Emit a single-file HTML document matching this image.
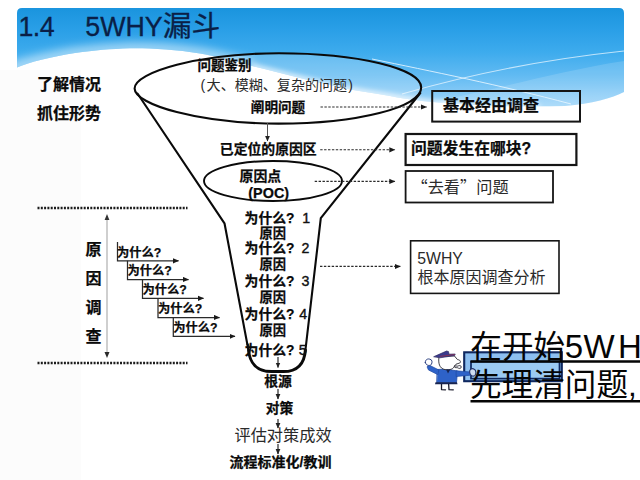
<!DOCTYPE html>
<html lang="zh">
<head>
<meta charset="utf-8">
<title>1.4 5WHY漏斗</title>
<style>
html,body{margin:0;padding:0;background:#fff;}
body{width:640px;height:480px;overflow:hidden;position:relative;}
svg{position:absolute;left:0;top:0;display:block;}
text{font-family:"Liberation Sans","Noto Sans CJK SC",sans-serif;}
.b{font-weight:bold;fill:#0a0a0a;stroke:#0a0a0a;stroke-width:0.25px;}
.r{font-weight:normal;fill:#2a2a2a;}
.d{font-weight:normal;font-size:14.2px;fill:#111;stroke:#111;stroke-width:0.4px;}
.t{fill:#0a1f47;stroke:#0a1f47;stroke-width:0.3px;}
.cj{font-family:"Noto Sans CJK SC","Liberation Sans",sans-serif;}
</style>
</head>
<body>
<svg width="640" height="480" viewBox="0 0 640 480">
<defs>
  <linearGradient id="hg" x1="0" y1="8" x2="0" y2="108" gradientUnits="userSpaceOnUse">
    <stop offset="0" stop-color="#1a94de"/>
    <stop offset="0.22" stop-color="#2a9fe7"/>
    <stop offset="0.44" stop-color="#3dabed"/>
    <stop offset="0.67" stop-color="#60baf2"/>
    <stop offset="0.84" stop-color="#84c9f6"/>
    <stop offset="1" stop-color="#a3d7f9"/>
  </linearGradient>
  <clipPath id="hclip">
    <path d="M17 13 Q17 8 22 8 L619 8 Q624 8 624 13 L624 92 C612 98 592 104 565 106 C520 107 470 106 422 101 C410 99.5 400 98 390 96 C372 93 355 90.5 340 87.5 C312 81 280 73 252 66 C230 60 215 56 200 53.5 C175 49.5 150 48 130 48.3 C110 49 95 50.3 75 53 C50 57 30 62 17 67.5 Z"/>
  </clipPath>
  <filter id="bl" filterUnits="userSpaceOnUse" x="0" y="0" width="640" height="200"><feGaussianBlur stdDeviation="2.6"/></filter>
  <filter id="bl2" filterUnits="userSpaceOnUse" x="0" y="0" width="640" height="200"><feGaussianBlur stdDeviation="4.5"/></filter>
  <marker id="ah2" markerWidth="7" markerHeight="7" refX="5.5" refY="3" orient="auto" markerUnits="userSpaceOnUse">
    <path d="M0 0.4 L6 3 L0 5.6 Z" fill="#1a1a1a"/>
  </marker>
  <marker id="ah" markerWidth="6" markerHeight="6" refX="5" refY="3" orient="auto" markerUnits="userSpaceOnUse">
    <path d="M0 0.6 L5.5 3 L0 5.4 Z" fill="#222"/>
  </marker>
</defs>

<rect x="0" y="70" width="81" height="410" fill="#fcfcfc"/>
<!-- header -->
<g clip-path="url(#hclip)">
  <rect x="17" y="8" width="607" height="100" fill="url(#hg)"/>
  <!-- lighter band right -->
  <path d="M452 98 C500 88 565 70 624 61 L624 110 L452 110 Z" fill="#fff" fill-opacity="0.14"/>
  <path d="M450 105.5 C440 104 431 102.8 422 101.5 C410 100 400 98.5 390 96.5 C372 93.5 355 91 340 88 C312 81.5 280 73.5 252 66.5" fill="none" stroke="#fff" stroke-width="6" stroke-opacity="0.7" filter="url(#bl)"/>
  <path d="M252 66.5 C230 60 215 56 200 53.5 C175 49.5 150 48 130 48.3 C110 49 95 50.3 75 53 C50 57 30 62 10 69" fill="none" stroke="#fff" stroke-width="12" stroke-opacity="0.5" filter="url(#bl2)"/>
  <path d="M540 107.5 C500 108 470 106.5 440 104" fill="none" stroke="#fff" stroke-width="7" stroke-opacity="0.6" filter="url(#bl)"/>
  <path d="M372 59 C430 71 500 85 571 104" fill="none" stroke="#e8f6ff" stroke-width="1" stroke-opacity="0.85"/>
  <path d="M402 94 C440 83 520 62 624 51" fill="none" stroke="#e8f6ff" stroke-width="1.2" stroke-opacity="0.75"/>
</g>

<!-- big ellipse translucent fill -->
<path d="M421.2 87.5 C421.2 107.4 357.3 123.6 278.5 123.6 C199 123.6 134.6 104.6 134.6 88.5 C134.6 72.3 199.2 53.3 279 53.3 C357.5 53.3 421.2 68.6 421.2 87.5 Z" fill="#fff" fill-opacity="0.2"/>

<!-- title -->
<text x="18.4" y="35.7" font-size="26.8" class="t" letter-spacing="-0.5">1.4</text>
<text x="85.3" y="35.7" font-size="26.8" class="t">5WHY<tspan font-size="28.8">漏斗</tspan></text>

<!-- left labels -->
<text class="b" x="37" y="89.5" font-size="16">了解情况</text>
<text class="b" x="37" y="118.5" font-size="16">抓住形势</text>

<!-- funnel -->
<g fill="none" stroke="#0a0a0a" stroke-linecap="round" stroke-linejoin="round">
  <path d="M421.2 87.5 C421.2 107.4 357.3 123.6 278.5 123.6 C199 123.6 134.6 104.6 134.6 88.5 C134.6 72.3 199.2 53.3 279 53.3 C357.5 53.3 421.2 68.6 421.2 87.5 Z" stroke-width="2.1"/>
  <path d="M137.5 93.5 L224.5 223.3 L248.8 352" stroke-width="2.1"/>
  <path d="M420.3 93 L320.8 218.2 L305.2 352" stroke-width="2.1"/>
  <path d="M248.6 350 C249.6 362.5 256.5 371.6 271.5 371.6 L283.5 371.6 C298.5 371.6 304.5 362.5 305.4 350" stroke-width="3"/>
  <ellipse cx="273" cy="181" rx="69" ry="20" stroke-width="1.9"/>
</g>

<!-- funnel texts -->
<text class="b" x="197.5" y="70" font-size="13.5">问题鉴别</text>
<text class="r" y="89.6" font-size="14.05"><tspan x="200.4">(</tspan><tspan x="206.6">大、模糊、复杂的问题</tspan><tspan x="348.2">)</tspan></text>
<text class="b" x="250.8" y="112" font-size="13.6">阐明问题</text>
<text class="b" x="219.8" y="153.6" font-size="13.85">已定位的原因区</text>
<text class="b" x="239.5" y="180.8" font-size="13.9">原因点</text>
<text class="b" x="248.3" y="197.5" font-size="14.4">(POC)</text>

<g class="b" font-size="13.8">
  <text x="244.6" y="223">为什么?</text><text x="302.3" y="223" class="d">1</text>
  <text x="259.5" y="238" font-size="13.3">原因</text>
  <text x="244.6" y="253.1">为什么?</text><text x="301.5" y="253.1" class="d">2</text>
  <text x="259.5" y="269" font-size="13.3">原因</text>
  <text x="244.6" y="285.8">为什么?</text><text x="301.5" y="285.8" class="d">3</text>
  <text x="259.5" y="302.2" font-size="13.3">原因</text>
  <text x="244.6" y="318.6">为什么?</text><text x="299.3" y="318.6" class="d">4</text>
  <text x="259.5" y="334.6" font-size="13.3">原因</text>
  <text x="244.6" y="355.2">为什么?</text><text x="298.8" y="355.2" class="d">5</text>
  <text x="264.3" y="386.2">根源</text>
  <text x="265.8" y="413">对策</text>
  <text x="229.5" y="467.4" font-size="14">流程标准化/教训</text>
</g>
<text class="r" x="234.5" y="441" font-size="16.2">评估对策成效</text>

<!-- small vertical arrows -->
<g stroke="#555" stroke-width="1" fill="none" marker-end="url(#ah)">
  <path d="M267.5 123 L267.5 141"/>
</g>
<g stroke="#2a2a2a" stroke-width="1.2" fill="none" marker-end="url(#ah)">
  <path d="M278 357 L278 367.5"/>
  <path d="M278 389 L278 399"/>
  <path d="M278 419 L278 428"/>
  <path d="M278 444 L278 454"/>
</g>

<!-- dashed arrows -->
<g stroke="#2a2a2a" stroke-width="1.1" fill="none" stroke-dasharray="2.4 1.5" marker-end="url(#ah2)">
  <path d="M320.5 107 L426.5 107"/>
  <path d="M320.2 149.8 L394.8 149.8"/>
  <path d="M314.7 181.4 L394.8 181.4"/>
  <path d="M320 266.4 L400.3 266.4"/>
</g>

<!-- right boxes -->
<g fill="none" stroke="#151515">
  <rect x="432.2" y="91" width="147.8" height="30.6" stroke-width="2"/>
  <rect x="405.6" y="134" width="170.8" height="31" stroke-width="2.2"/>
  <rect x="405.6" y="171" width="147.4" height="31.5" stroke-width="1.8"/>
  <rect x="410.6" y="240.8" width="148.4" height="52.6" stroke-width="1.6"/>
</g>
<text class="b" x="443" y="111.4" font-size="16">基本经由调查</text>
<text class="b" x="411" y="154.1" font-size="15.8">问题发生在哪块?</text>
<text class="r cj" x="411.5" y="192.7" font-size="16.2">“去看”问题</text>
<text class="r" x="417.2" y="263.6" font-size="15.8">5WHY</text>
<text class="r" x="417.4" y="282.9" font-size="16">根本原因调查分析</text>

<!-- dotted lines -->
<g stroke="#1c1c1c" stroke-width="2.3" stroke-dasharray="2 1.3" fill="none">
  <path d="M37.5 208 L187.5 208"/>
  <path d="M37.5 363 L187.5 363"/>
</g>

<!-- vertical double arrow -->
<g stroke="#a8a8a8" stroke-width="1.1" fill="none">
  <path d="M107 218 L107 355"/>
</g>
<path d="M107 214 L104.6 220 L109.4 220 Z" fill="#333"/>
<path d="M107 358 L104.5 352 L109.5 352 Z" fill="#2a2a2a"/>

<!-- vertical label -->
<g class="b" font-size="16">
  <text x="85.5" y="255">原</text>
  <text x="85.5" y="284.2">因</text>
  <text x="85.5" y="313.2">调</text>
  <text x="85.5" y="342">查</text>
</g>

<!-- stair whys -->
<g stroke="#2a2a2a" stroke-width="1.25" fill="none" marker-end="url(#ah2)">
  <path d="M117.5 242 L117.5 260.8 L178.5 260.8"/>
  <path d="M127.5 260.8 L127.5 279.5 L188.5 279.5"/>
  <path d="M142.5 279.5 L142.5 298.3 L203.5 298.3"/>
  <path d="M158 298.3 L158 317.5 L219.5 317.5"/>
  <path d="M173.3 317.5 L173.3 336.3 L235 336.3"/>
</g>
<g class="b" font-size="12.25">
  <text x="117" y="256.7">为什么?</text>
  <text x="127.5" y="275.4">为什么?</text>
  <text x="142.5" y="294.2">为什么?</text>
  <text x="158" y="313.4">为什么?</text>
  <text x="173.3" y="332.2">为什么?</text>
</g>

<!-- blue highlight rects -->
<rect x="464.2" y="352.3" width="97.6" height="28.9" fill="#8dbff0" stroke="#0f2860" stroke-width="2.1"/>
<rect x="471" y="361.6" width="88.5" height="17" fill="#9bcaf3" stroke="#0f2860" stroke-width="1.7"/>

<!-- big text -->
<g fill="#050505">
  <text y="358.3" font-size="31.6"><tspan x="470.3">在开始</tspan><tspan x="564.7 583.6 618 644" font-size="33">5WHY</tspan></text>
  <text x="470" y="396.3" font-size="31.6">先理清问题,</text>
</g>
<path d="M470.5 361.5 L640 361.5 M470.5 401.2 L640 401.2" stroke="#050505" stroke-width="2.4"/>

<!-- cartoon policeman -->
<g stroke-linejoin="round" stroke-linecap="round">
  <path d="M441.5 383.5 L441.5 389.6 L445.5 389.8 M448.6 383.5 L449 389.6 L453.3 389.8" stroke="#1a1a2a" stroke-width="1.3" fill="none"/>
  <path d="M437.5 369.5 L446 369 L457.5 371 L456.5 382.6 L437 382.6 Z" fill="#2e62c8" stroke="#1f4aa3" stroke-width="0.8"/>
  <path d="M435.5 382.3 L457 382.3 L457.5 384.3 L435 384.3 Z" fill="#182450"/>
  <path d="M438.5 369.8 L429.5 365.3 L427 366.8 L428.5 370 L437.5 374.5 Z" fill="#2e62c8" stroke="#1f4aa3" stroke-width="0.7"/>
  <path d="M456.5 370.8 L470.5 372 L470.5 375.2 L456.5 376.5 Z" fill="#2e62c8" stroke="#1f4aa3" stroke-width="0.7"/>
  <path d="M425.3 362.5 C425 359.5 428 358.3 430 359.3 C432.3 359.5 432.5 362.5 431.3 364.5 C429.5 366.3 426 365.6 425.3 362.5 Z" fill="#fff" stroke="#2a3f80" stroke-width="1"/>
  <path d="M469.6 372 C469.2 369 472.5 367.8 474.3 369.3 C476.3 370.5 476.3 374 474.8 375.6 C472.5 377 470 375.5 469.6 372 Z" fill="#cfdcf0" stroke="#22326a" stroke-width="1.1"/>
  <path d="M439 356.8 C438 363 439.3 368.5 445 369.6 C450 370.3 453.5 369 454.5 366 L456 364.2 L459.8 363 C461.3 361.6 460 359.8 457.5 359.6 L454.6 356.2 Z" fill="#fff" stroke="#2b2b33" stroke-width="0.9"/>
  <path d="M455 365.8 L458 366.2 C458.5 365 461.3 365.2 461.3 367 C461.3 368.8 458.5 369 458 367.8 L455.3 367.6 Z" fill="#e8e8ee" stroke="#2b2b33" stroke-width="0.8"/>
  <path d="M434 356.6 L446.6 351 L448.5 351.6 L449 354.2 L455.2 354 L454.6 355.6 L440 357.8 Z" fill="#3c3a8c" stroke="#2a285f" stroke-width="0.7"/>
  <path d="M440.5 356.3 L454.5 354.6" stroke="#8a3050" stroke-width="0.9" fill="none"/>
  <path d="M446 369.3 L448 373.4 L450.2 369.6 Z" fill="#182450"/>
</g>
</svg>
</body>
</html>
